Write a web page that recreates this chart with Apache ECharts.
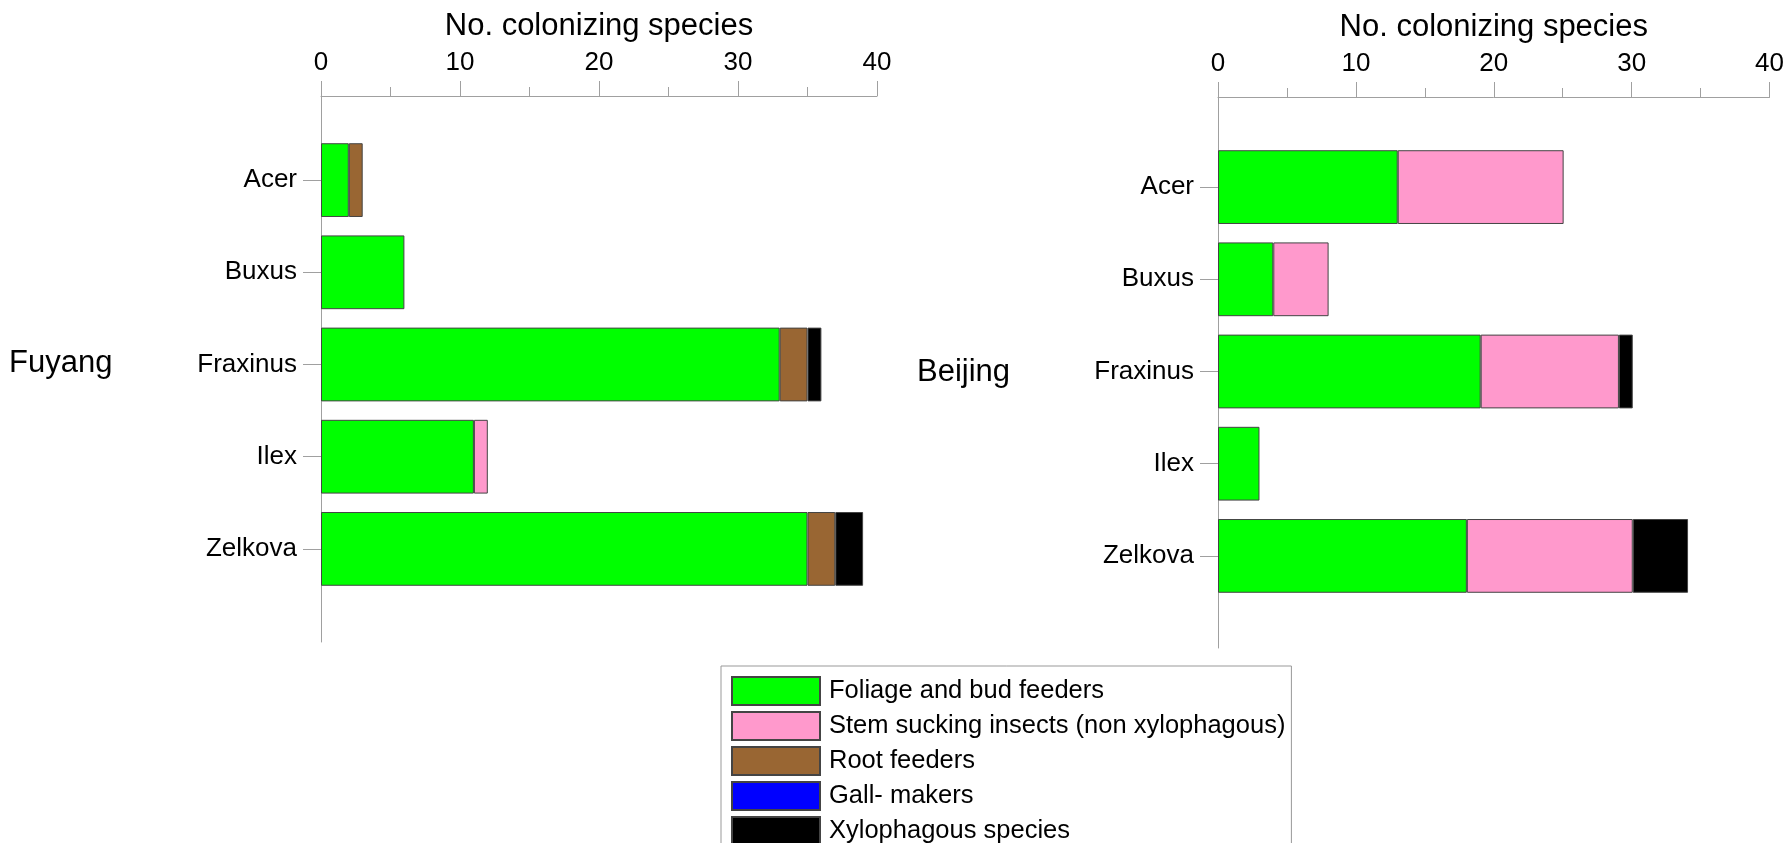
<!DOCTYPE html>
<html>
<head>
<meta charset="utf-8">
<script src="https://cdn.jsdelivr.net/npm/echarts@6/dist/echarts.min.js"></script>
<style>
  html, body { margin: 0; padding: 0; background: #fff; }
  #chart { width: 1787px; height: 843px; }
</style>
</head>
<body>
<div id="chart"></div>
<script>
// host tree genera
const categories = ['Acer', 'Buxus', 'Fraxinus', 'Ilex', 'Zelkova'];

// Fuyang
const fuyangFoliage = [2, 6, 33, 11, 35];
const fuyangStem = [0, 0, 0, 1, 0];
const fuyangRoot = [1, 0, 2, 0, 2];
const fuyangGall = [0, 0, 0, 0, 0];
const fuyangXylo = [0, 0, 1, 0, 2];

// Beijing
const beijingFoliage = [13, 4, 19, 3, 18];
const beijingStem = [12, 4, 10, 0, 12];
const beijingRoot = [0, 0, 0, 0, 0];
const beijingGall = [0, 0, 0, 0, 0];
const beijingXylo = [0, 0, 1, 0, 4];

const groupNames = ['Foliage and bud feeders', 'Stem sucking insects (non xylophagous)', 'Root feeders', 'Gall- makers', 'Xylophagous species'];
const groupColors = ['#00ff00', '#ff99cc', '#996633', '#0000ff', '#000000'];

const axisMin = 0, axisMax = 40, axisStep = 10;
const axisName = 'No. colonizing species';

const font = 'Liberation Sans, Arial, sans-serif';
const lineColor = '#a0a0a0';

let chart = echarts.init(document.getElementById('chart'));

// grid 0/2: bars, grid 1/3: the longer axis frame
const grids = [
  {left: 321, top: 134, width: 556, height: 461},
  {left: 321, top: 96, width: 556, height: 546},
  {left: 1218, top: 141, width: 553, height: 461},
  {left: 1218, top: 97, width: 553, height: 551}
];

function barX(gridIndex) {
  return {gridIndex, type: 'value', min: axisMin, max: axisMax, show: false};
}
function frameX(gridIndex) {
  return {
    gridIndex, type: 'value', position: 'top', min: axisMin, max: axisMax, interval: axisStep,
    name: axisName, nameLocation: 'middle', nameGap: 54,
    nameTextStyle: {fontSize: 31, fontFamily: font, color: '#000'},
    axisLine: {show: true, onZero: false, lineStyle: {color: lineColor, width: 1}},
    axisTick: {show: true, length: 15, lineStyle: {color: lineColor}},
    minorTick: {show: true, splitNumber: 2, length: 9, lineStyle: {color: lineColor}},
    axisLabel: {fontSize: 26, fontFamily: font, color: '#000', margin: 20},
    splitLine: {show: false}
  };
}
function barY(gridIndex) {
  return {
    gridIndex, type: 'category', data: categories, inverse: true,
    axisLine: {show: false},
    axisTick: {show: true, alignWithLabel: true, length: 18, lineStyle: {color: lineColor}},
    axisLabel: {fontSize: 26, fontFamily: font, color: '#000', margin: 24}
  };
}
function frameY(gridIndex) {
  return {
    gridIndex, type: 'value', min: 0, max: 1,
    axisLine: {show: true, onZero: false, lineStyle: {color: lineColor, width: 1}},
    axisTick: {show: false}, axisLabel: {show: false}, splitLine: {show: false}
  };
}

function makeSeries(lists, axisIndex, stack) {
  return lists.map((list, i) => ({
    name: groupNames[i],
    type: 'bar',
    stack,
    xAxisIndex: axisIndex,
    yAxisIndex: axisIndex,
    barCategoryGap: '20%',
    itemStyle: {color: groupColors[i], borderColor: '#444', borderWidth: 1},
    data: list.map(v => v === 0 ? '-' : v)
  }));
}

chart.setOption({
  animation: false,
  backgroundColor: '#fff',
  title: [
    {text: 'Fuyang', left: 9, top: 348, padding: 0, textStyle: {fontSize: 31, fontWeight: 'normal', fontFamily: font, color: '#000'}},
    {text: 'Beijing', left: 917, top: 357, padding: 0, textStyle: {fontSize: 31, fontWeight: 'normal', fontFamily: font, color: '#000'}}
  ],
  legend: {
    data: groupNames,
    orient: 'vertical',
    left: 721,
    top: 666,
    height: 172,
    padding: [10, 6, 10, 10],
    itemWidth: 88,
    itemHeight: 28,
    itemGap: 5,
    icon: 'rect',
    selectedMode: false,
    borderColor: '#999',
    borderWidth: 1,
    textStyle: {fontSize: 25.5, fontFamily: font, color: '#000', padding: [0, 0, 0, 4]}
  },
  grid: grids,
  xAxis: [barX(0), frameX(1), barX(2), frameX(3)],
  yAxis: [barY(0), frameY(1), barY(2), frameY(3)],
  series: [
    ...makeSeries([fuyangFoliage, fuyangStem, fuyangRoot, fuyangGall, fuyangXylo], 0, 'fuyang'),
    ...makeSeries([beijingFoliage, beijingStem, beijingRoot, beijingGall, beijingXylo], 2, 'beijing')
  ]
});
</script>
</body>
</html>
